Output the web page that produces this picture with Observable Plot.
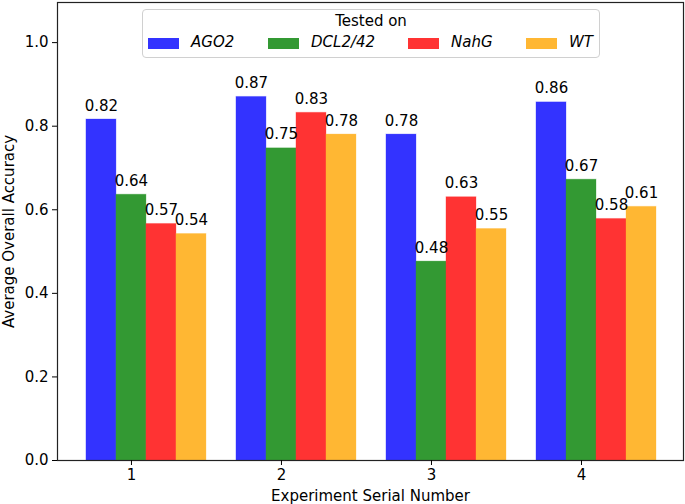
<!DOCTYPE html>
<html>
<head>
<meta charset="utf-8">
<script src="https://cdn.jsdelivr.net/npm/d3@7"></script>
<script src="https://cdn.jsdelivr.net/npm/@observablehq/plot@0.6"></script>
<style>
  html, body { margin: 0; padding: 0; background: #fff; }
  #wrap { position: relative; width: 685px; height: 504px; font-family: "DejaVu Sans", sans-serif; }
  #legend { position: absolute; left: 142px; top: 9px; width: 456px; height: 47px;
    border: 1px solid #d0d0d0; border-radius: 4px; background: rgba(255,255,255,0.85); box-sizing: content-box; }
  #legend .title { position: absolute; left: 0; right: 0; top: 2px; text-align: center; font-size: 15px; color: #000; }
  #legend .item { position: absolute; top: 26px; height: 16px; }
  #legend .sw { position: absolute; top: 2px; width: 31px; height: 11px; }
  #legend .lab { position: absolute; top: -3px; left: 43px; font-size: 15px; font-style: italic; white-space: nowrap; color: #000; }
</style>
</head>
<body>
<div id="wrap"></div>
<script>
const experiments = [1, 2, 3, 4];
const lines = ["AGO2", "DCL2/42", "NahG", "WT"];
const colors = ["rgb(51,51,255)", "rgb(51,153,51)", "rgb(255,51,51)", "rgb(255,183,51)"];
const AGO2 = [0.816, 0.87, 0.78, 0.857];
const DCL2_42 = [0.636, 0.747, 0.476, 0.672];
const NahG = [0.566, 0.832, 0.63, 0.578];
const WT = [0.542, 0.78, 0.554, 0.607];
const yTicks = [0, 0.2, 0.4, 0.6, 0.8, 1.0];
const legendLeft = [5, 125, 265, 383];

const series = [AGO2, DCL2_42, NahG, WT];
const barWidth = 0.2;
const data = [];
series.forEach((vals, i) => {
  vals.forEach((v, j) => {
    data.push({exp: experiments[j], line: lines[i], i, value: v});
  });
});
const center = d => d.exp + (d.i - 1) * barWidth;

const plot = Plot.plot({
  width: 685,
  height: 504,
  marginLeft: 57,
  marginRight: 2,
  marginTop: 2,
  marginBottom: 44,
  style: {fontFamily: "DejaVu Sans, sans-serif", fontSize: "15px", color: "#000", background: "#fff"},
  x: {domain: [0.507, 4.68], label: null},
  y: {domain: [0, 1.096], label: null},
  color: {domain: lines, range: colors},
  marks: [
    Plot.rectY(data, {
      x1: d => center(d) - barWidth / 2,
      x2: d => center(d) + barWidth / 2,
      y1: 0,
      y2: "value",
      fill: "line",
      stroke: "line",
      strokeOpacity: 0.3,
      strokeWidth: 1
    }),
    Plot.text(data, {
      x: center,
      y: "value",
      text: d => d3.format(".2f")(d.value),
      lineAnchor: "bottom",
      dy: -9,
      fontSize: 15,
      fill: "#000"
    }),
    Plot.frame({stroke: "#222", strokeWidth: 1.2}),
    Plot.axisX({ticks: experiments, tickFormat: d3.format("d"), label: null, tickSize: 5, tickPadding: 4, fontSize: 15}),
    Plot.axisY({ticks: yTicks, tickFormat: d3.format(".1f"), label: null, tickSize: 5, tickPadding: 4, fontSize: 15}),
    Plot.text(["Experiment Serial Number"], {frameAnchor: "bottom", textAnchor: "middle", lineAnchor: "bottom", dy: 40, fontSize: 15, fill: "#000"}),
    Plot.text(["Average Overall Accuracy"], {frameAnchor: "left", textAnchor: "middle", lineAnchor: "middle", rotate: -90, dx: -48, fontSize: 15, fill: "#000"})
  ]
});

const wrap = document.getElementById("wrap");
wrap.appendChild(plot);

const legend = document.createElement("div");
legend.id = "legend";
const title = document.createElement("div");
title.className = "title";
title.textContent = "Tested on";
legend.appendChild(title);
lines.forEach((name, i) => {
  const item = document.createElement("div");
  item.className = "item";
  item.style.left = legendLeft[i] + "px";
  const sw = document.createElement("div");
  sw.className = "sw";
  sw.style.background = colors[i];
  const lab = document.createElement("div");
  lab.className = "lab";
  lab.textContent = name;
  item.appendChild(sw);
  item.appendChild(lab);
  legend.appendChild(item);
});
wrap.appendChild(legend);
</script>
</body>
</html>
